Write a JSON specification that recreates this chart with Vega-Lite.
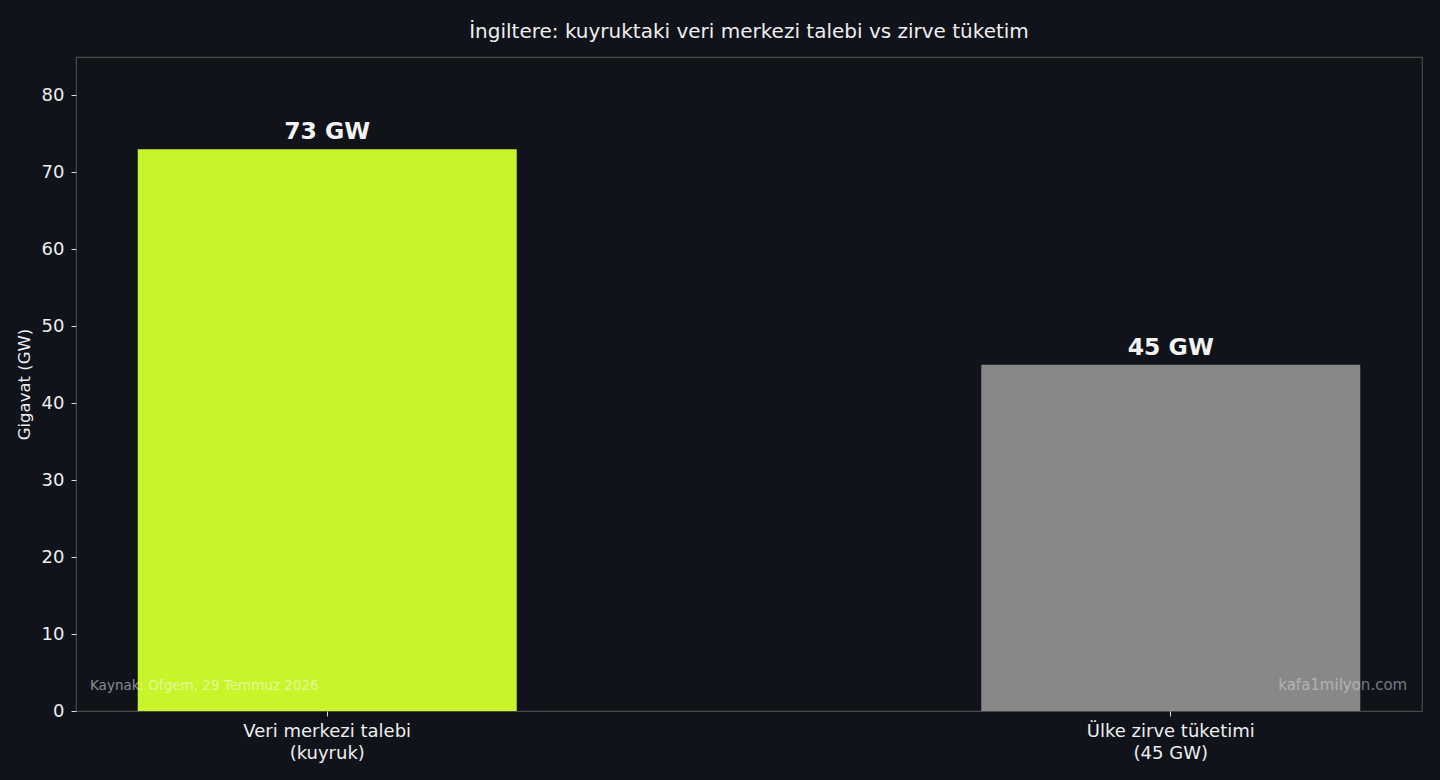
{
  "$schema": "https://vega.github.io/schema/vega-lite/v6.json",
  "autosize": "none",
  "width": 1346,
  "height": 654,
  "padding": {"left": 76, "top": 57, "right": 18, "bottom": 69},
  "background": "#10131a",
  "config": {
    "font": "DejaVu Sans",
    "view": {"stroke": "#4a4a4a", "strokeWidth": 1.2, "fill": "#10131a"}
  },
  "title": {
    "text": "İngiltere: kuyruktaki veri merkezi talebi vs zirve tüketim",
    "font": "DejaVu Sans",
    "fontSize": 20,
    "fontWeight": "normal",
    "color": "#eeeeee",
    "anchor": "middle",
    "offset": 15
  },
  "datasets": {
    "bars": [
      {"kategori": "Veri merkezi talebi\n(kuyruk)", "gw": 73, "etiket": "73 GW"},
      {"kategori": "Ülke zirve tüketimi\n(45 GW)", "gw": 45, "etiket": "45 GW"}
    ],
    "notes": [
      {"not": "Kaynak: Ofgem, 29 Temmuz 2026"}
    ],
    "marks": [
      {"not": "kafa1milyon.com"}
    ]
  },
  "layer": [
    {
      "data": {"name": "bars"},
      "encoding": {
        "x": {
          "field": "kategori",
          "type": "nominal",
          "sort": null,
          "scale": {"paddingInner": 0.5507, "paddingOuter": 0.0732},
          "axis": {
            "title": null,
            "labelAngle": 0,
            "labelExpr": "split(datum.label, '\\n')",
            "labelFont": "DejaVu Sans",
            "labelFontSize": 18,
            "labelColor": "#eeeeee",
            "labelLineHeight": 22,
            "labelPadding": 6,
            "tickColor": "#dddddd",
            "tickSize": 5,
            "domain": false
          }
        },
        "y": {
          "field": "gw",
          "type": "quantitative",
          "scale": {"domain": [0, 85], "nice": false},
          "axis": {
            "title": "Gigavat (GW)",
            "titleFont": "DejaVu Sans",
            "titleFontSize": 16.5,
            "titleFontWeight": "normal",
            "titleColor": "#eeeeee",
            "titlePadding": 9,
            "values": [0, 10, 20, 30, 40, 50, 60, 70, 80],
            "labelFont": "DejaVu Sans",
            "labelFontSize": 18,
            "labelColor": "#eeeeee",
            "labelPadding": 7,
            "tickColor": "#dddddd",
            "tickSize": 5,
            "grid": false,
            "domain": false
          }
        }
      },
      "layer": [
        {
          "mark": {"type": "bar"},
          "encoding": {
            "color": {
              "field": "kategori",
              "type": "nominal",
              "sort": null,
              "scale": {"range": ["#c8f52a", "#888888"]},
              "legend": null
            }
          }
        },
        {
          "mark": {
            "type": "text",
            "baseline": "alphabetic",
            "dy": -10,
            "font": "DejaVu Sans",
            "fontSize": 23.5,
            "fontWeight": "bold",
            "color": "#f2f2f2"
          },
          "encoding": {"text": {"field": "etiket"}}
        }
      ]
    },
    {
      "data": {"name": "notes"},
      "mark": {
        "type": "text",
        "align": "left",
        "baseline": "middle",
        "font": "DejaVu Sans",
        "fontSize": 13.5,
        "color": "#ffffff",
        "opacity": 0.5
      },
      "encoding": {
        "x": {"datum": 0.0104, "type": "quantitative", "scale": {"domain": [0, 1]}, "axis": null},
        "y": {"datum": 3.3, "type": "quantitative"},
        "text": {"field": "not"}
      }
    },
    {
      "data": {"name": "marks"},
      "mark": {
        "type": "text",
        "align": "right",
        "baseline": "middle",
        "font": "DejaVu Sans",
        "fontSize": 15,
        "color": "#dddddd",
        "opacity": 0.5
      },
      "encoding": {
        "x": {"datum": 0.989, "type": "quantitative", "scale": {"domain": [0, 1]}, "axis": null},
        "y": {"datum": 3.4, "type": "quantitative"},
        "text": {"field": "not"}
      }
    }
  ],
  "resolve": {"scale": {"x": "independent", "color": "independent"}, "axis": {"x": "independent"}}
}
